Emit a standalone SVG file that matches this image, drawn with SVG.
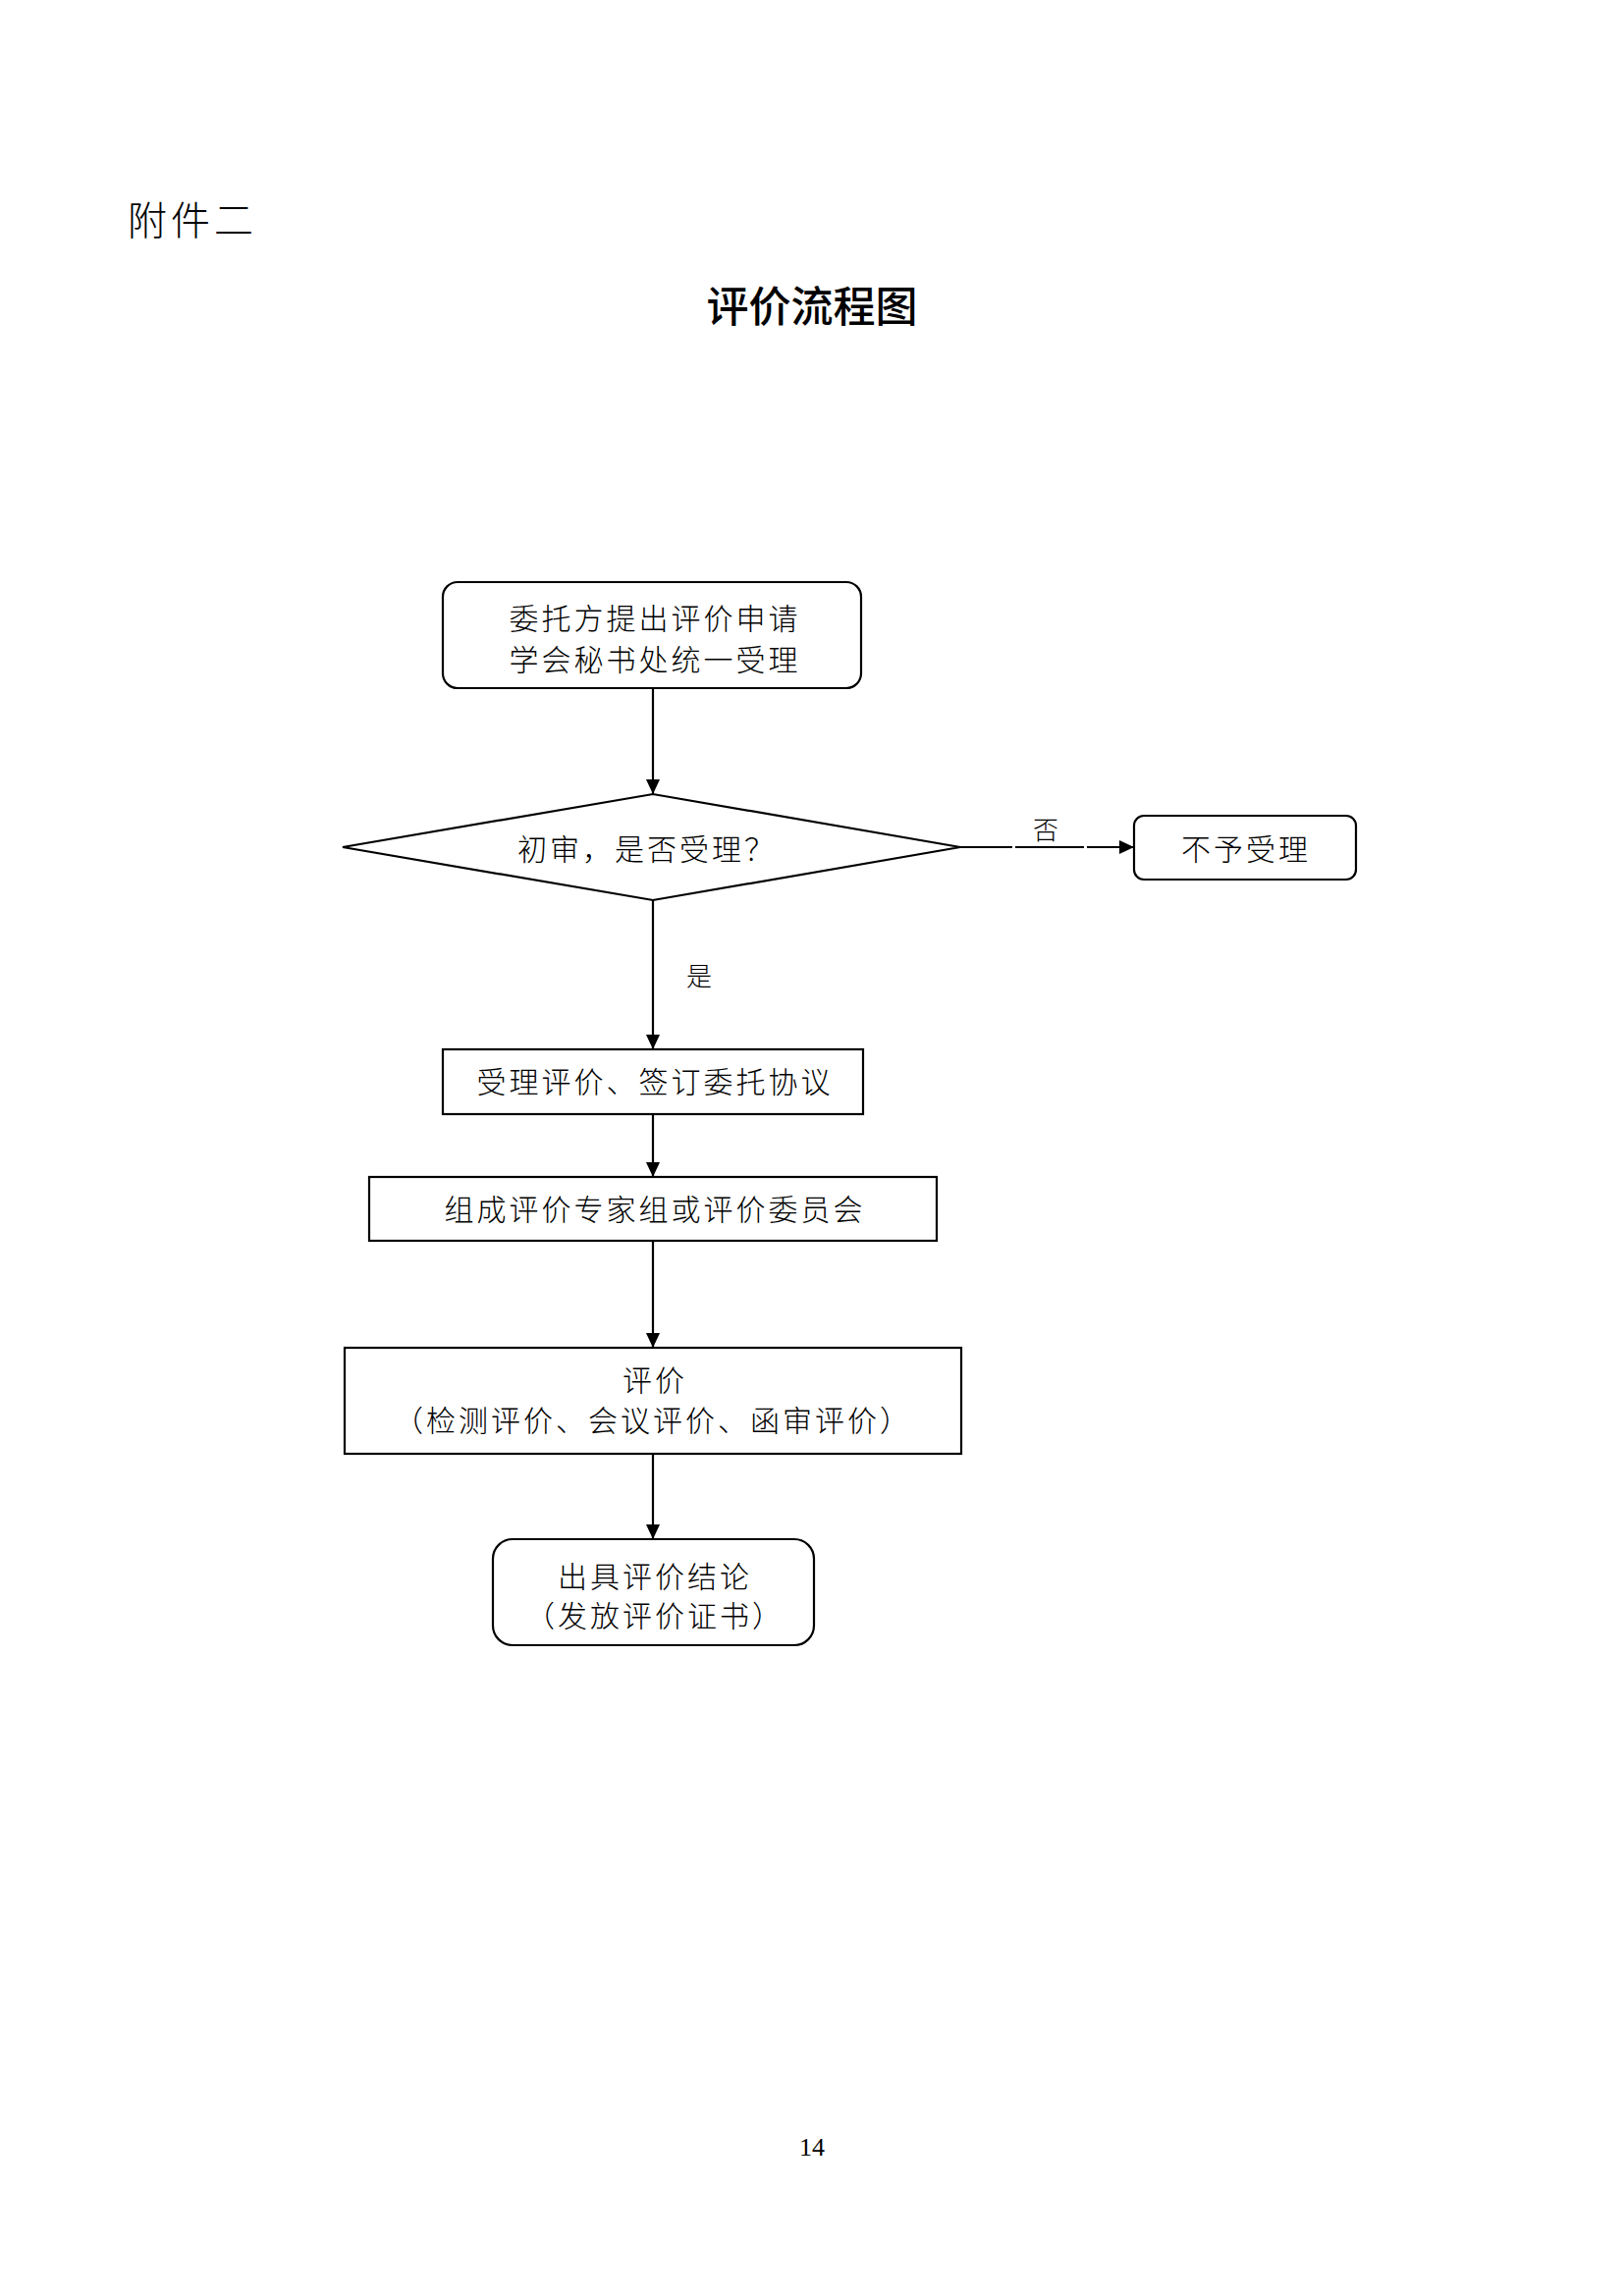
<svg xmlns="http://www.w3.org/2000/svg" width="1654" height="2339" viewBox="0 0 1654 2339">
<style>
.bg{fill:#ffffff}
.box{fill:#ffffff;stroke:#000000;stroke-width:2.2}
.t{font-family:"Noto Sans CJK SC","Noto Sans CJK JP",sans-serif;font-weight:300;font-size:30px;letter-spacing:3px;fill:#000000;text-anchor:middle;dominant-baseline:central}
.lbl{font-family:"Noto Sans CJK SC",sans-serif;font-weight:300;font-size:26px;fill:#000000;text-anchor:middle;dominant-baseline:central}
.conn{fill:none;stroke:#000000;stroke-width:2.2}
</style>
<defs>
<marker id="arr" viewBox="0 0 15 14" refX="15" refY="7" markerWidth="15" markerHeight="14" markerUnits="userSpaceOnUse" orient="auto">
<path d="M0,0 L15,7 L0,14 Z" fill="#000000"/>
</marker>
</defs>
<rect class="bg" x="0" y="0" width="1654" height="2339"/>
<text id="attachment" x="130" y="222" style="font-family:'Noto Sans CJK SC',sans-serif;font-weight:300;font-size:40px;letter-spacing:4px;fill:#000;dominant-baseline:central">附件二</text>
<text id="title" x="827" y="309" style="font-family:'Noto Sans CJK SC',sans-serif;font-weight:500;font-size:43px;fill:#000;text-anchor:middle;dominant-baseline:central">评价流程图</text>

<g id="connectors">
<line class="conn" x1="665" y1="701" x2="665" y2="809" marker-end="url(#arr)"/>
<path class="conn" d="M978,863 H1031 M1034,863 H1104 M1107,863 H1155" marker-end="url(#arr)"/>
<line class="conn" x1="665" y1="917" x2="665" y2="1069" marker-end="url(#arr)"/>
<line class="conn" x1="665" y1="1135" x2="665" y2="1199" marker-end="url(#arr)"/>
<line class="conn" x1="665" y1="1264" x2="665" y2="1373" marker-end="url(#arr)"/>
<line class="conn" x1="665" y1="1481" x2="665" y2="1568" marker-end="url(#arr)"/>
<text class="lbl" x="1065" y="843">否</text>
<text class="lbl" x="712" y="992">是</text>
</g>

<g id="node-apply">
<rect class="box" x="451" y="593" width="426" height="108" rx="15" ry="15"/>
<text class="t" x="667" y="628">委托方提出评价申请</text>
<text class="t" x="667" y="670">学会秘书处统一受理</text>
</g>

<g id="node-review">
<polygon class="box" points="349,863 665,809 978,863 665,917"/>
<text class="t" x="659" y="863">初审，是否受理？</text>
</g>

<g id="node-reject">
<rect class="box" x="1155" y="831" width="226" height="65" rx="10" ry="10"/>
<text class="t" x="1269" y="863">不予受理</text>
</g>

<g id="node-accept">
<rect class="box" x="451" y="1069" width="428" height="66"/>
<text class="t" x="667" y="1100">受理评价、签订委托协议</text>
</g>

<g id="node-experts">
<rect class="box" x="376" y="1199" width="578" height="65"/>
<text class="t" x="667" y="1230">组成评价专家组或评价委员会</text>
</g>

<g id="node-evaluate">
<rect class="box" x="351" y="1373" width="628" height="108"/>
<text class="t" x="667" y="1404">评价</text>
<text class="t" x="665" y="1445">（检测评价、会议评价、函审评价）</text>
</g>

<g id="node-conclusion">
<rect class="box" x="502" y="1568" width="327" height="108" rx="20" ry="20"/>
<text class="t" x="667" y="1604">出具评价结论</text>
<text class="t" x="667" y="1644">（发放评价证书）</text>
</g>

<text id="page-number" x="827" y="2196" style="font-family:'Liberation Serif',serif;font-size:26px;fill:#000;text-anchor:middle">14</text>
</svg>
